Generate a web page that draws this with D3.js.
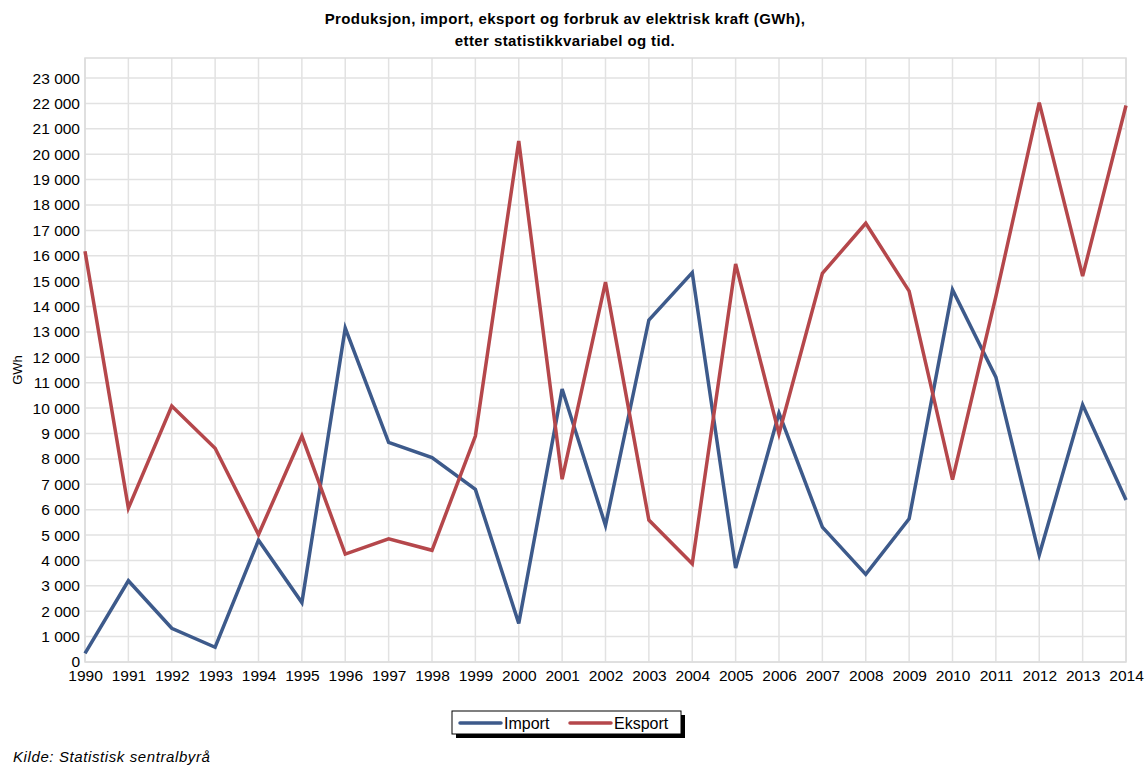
<!DOCTYPE html>
<html>
<head>
<meta charset="utf-8">
<script src="https://cdn.jsdelivr.net/npm/d3@7"></script>
<style>
  body { margin:0; background:#fff; }
  svg text { font-family:"Liberation Sans", Arial, sans-serif; fill:#000; }
</style>
</head>
<body>
<svg id="chart" width="1147" height="765"></svg>
<script>
const years = d3.range(1990, 2015);
const importVals = [340, 3200, 1330, 580, 4800, 2340, 13150, 8650, 8050, 6800,
  1520, 10750, 5380, 13470, 15340, 3700, 9800, 5310, 3450, 5640,
  14660, 11220, 4220, 10130, 6380];
const eksportVals = [16180, 6060, 10080, 8420, 5020, 8900, 4250, 4850, 4400, 8900,
  20520, 7200, 14960, 5590, 3870, 15680, 8990, 15310, 17280, 14610,
  7180, 14400, 22030, 15200, 21920];
const yTicks = d3.range(0, 23001, 1000);

const COLOR = { Import:"#3d5a8b", Eksport:"#b5474b" };

const plot = { left:85, right:1126, top:58, bottom:662 };

const svg = d3.select("#chart");

const x = d3.scaleLinear()
  .domain([1990, 2014])
  .range([plot.left, plot.right]);

const y = d3.scaleLinear()
  .domain([0, 23790])
  .range([plot.bottom, plot.top]);

// title
const titleLines = [
  "Produksjon, import, eksport og forbruk av elektrisk kraft (GWh),",
  "etter statistikkvariabel og tid."
];
svg.selectAll(".title").data(titleLines).join("text")
  .attr("x", 565).attr("y", (d,i)=>24 + i*22)
  .attr("text-anchor","middle")
  .style("font-size","15px").style("font-weight","bold")
  .style("letter-spacing","0.4px")
  .text(d=>d);

// grid
const grid = svg.append("g").attr("stroke","#e2e2e2").attr("stroke-width",1.5);
grid.selectAll(".h").data(yTicks).join("line")
  .attr("x1", plot.left).attr("x2", plot.right)
  .attr("y1", d=>y(d)).attr("y2", d=>y(d));
grid.selectAll(".v").data(years).join("line")
  .attr("x1", d=>x(d)).attr("x2", d=>x(d))
  .attr("y1", plot.top).attr("y2", plot.bottom);

svg.append("rect")
  .attr("x", plot.left).attr("y", plot.top)
  .attr("width", plot.right - plot.left).attr("height", plot.bottom - plot.top)
  .attr("fill","none").attr("stroke","#dcdcdc").attr("stroke-width",1.5);

// axes
const fmt = d => d3.format(",")(d).replace(/,/g, " ");

svg.append("g")
  .attr("transform", `translate(${plot.left},0)`)
  .call(d3.axisLeft(y).tickValues(yTicks).tickSize(0).tickPadding(5).tickFormat(fmt))
  .call(g => g.select(".domain").remove())
  .selectAll("text")
  .style("font-size","15.5px")
  .attr("font-family", null);

svg.append("g")
  .attr("transform", `translate(0,${plot.bottom})`)
  .call(d3.axisBottom(x).tickValues(years).tickSize(0).tickPadding(8).tickFormat(d3.format("d")))
  .call(g => g.select(".domain").remove())
  .selectAll("text")
  .style("font-size","15.5px")
  .attr("font-family", null);

svg.append("text")
  .attr("transform", "translate(22,370) rotate(-90)")
  .attr("text-anchor","middle")
  .style("font-size","13px")
  .text("GWh");

// lines
const line = d3.line()
  .x((d,i)=>x(years[i]))
  .y(d=>y(d));

[["Import", importVals], ["Eksport", eksportVals]].forEach(([name, vals])=>{
  svg.append("path")
    .datum(vals)
    .attr("fill","none")
    .attr("stroke", COLOR[name])
    .attr("stroke-width", 3.5)
    .attr("d", line);
});

// legend
const lg = svg.append("g").attr("transform","translate(452,711)");
lg.append("rect").attr("x",4).attr("y",4).attr("width",229).attr("height",23).attr("fill","#000");
lg.append("rect").attr("x",0).attr("y",0).attr("width",229).attr("height",23)
  .attr("fill","#fff").attr("stroke","#000").attr("stroke-width",1);

const items = [{name:"Import", x:8, tx:52}, {name:"Eksport", x:118, tx:162}];
items.forEach(it=>{
  lg.append("line")
    .attr("x1", it.x).attr("x2", it.x + 41)
    .attr("y1", 12).attr("y2", 12)
    .attr("stroke", COLOR[it.name]).attr("stroke-width", 3.5).attr("stroke-linecap","round");
  lg.append("text")
    .attr("x", it.tx).attr("y", 17.5)
    .style("font-size","16px")
    .text(it.name);
});

// source
svg.append("text")
  .attr("x", 13).attr("y", 762)
  .style("font-size","15px").style("font-style","italic")
  .style("letter-spacing","0.6px")
  .text("Kilde: Statistisk sentralbyrå");
</script>
</body>
</html>
